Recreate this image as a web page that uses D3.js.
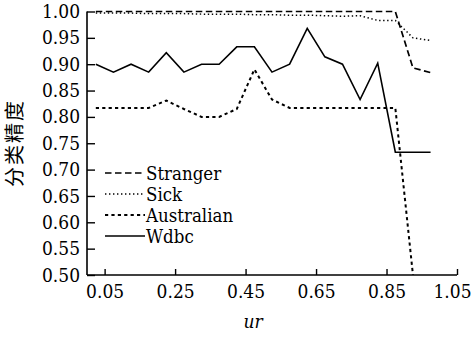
<!DOCTYPE html>
<html><head><meta charset="utf-8">
<script src="https://cdn.jsdelivr.net/npm/d3@7/dist/d3.min.js"></script>
<style>body{margin:0;background:#fff}svg{display:block}</style>
</head><body>
<script>
const urValues = [0.025,0.075,0.125,0.175,0.225,0.275,0.325,0.375,0.425,0.475,0.525,0.575,0.625,0.675,0.725,0.775,0.825,0.875,0.925,0.975];
const stranger = [1.0,1.0,1.0,1.0,1.0,1.0,1.0,1.0,1.0,1.0,1.0,1.0,1.0,1.0,1.0,1.0,1.0,1.0,0.893,0.884];
const sick = [0.997,0.997,0.997,0.996,0.996,0.996,0.995,0.995,0.995,0.994,0.994,0.993,0.993,0.992,0.991,0.992,0.983,0.983,0.950,0.945];
const australian = [0.817,0.817,0.817,0.817,0.831,0.815,0.800,0.800,0.815,0.890,0.833,0.817,0.817,0.817,0.817,0.817,0.817,0.817,0.500,null];
const wdbc = [0.900,0.885,0.900,0.885,0.922,0.885,0.900,0.900,0.933,0.933,0.885,0.900,0.968,0.914,0.900,0.833,0.902,0.733,0.733,0.733];
const xTicks = [0.05,0.25,0.45,0.65,0.85,1.05];
const yTicks = [0.50,0.55,0.60,0.65,0.70,0.75,0.80,0.85,0.90,0.95,1.00];
const seriesNames = ["Stranger","Sick","Australian","Wdbc"];

const W=472,H=337;
const FONT="DejaVu Serif Condensed, DejaVu Serif";
const svg=d3.select("body").append("svg").attr("width",W).attr("height",H);
const x=d3.scaleLinear().domain([0,1.05]).range([87,457]);
const y=d3.scaleLinear().domain([0.5,1.0]).range([275,11.5]);

const styles=[
  {dash:"6.5,3.5",w:1.7},
  {dash:"1.4,2.6",w:1.5},
  {dash:"3.2,3.2",w:2},
  {dash:null,w:1.6}
];
const data=[stranger,sick,australian,wdbc];
const line=d3.line().defined(d=>d[1]!=null).x(d=>x(d[0])).y(d=>y(d[1]));
data.forEach((s,i)=>{
  svg.append("path").datum(urValues.map((u,j)=>[u,s[j]]))
    .attr("d",line).attr("fill","none").attr("stroke","#000")
    .attr("stroke-width",styles[i].w)
    .attr("stroke-dasharray",styles[i].dash);
});

const gx=svg.append("g").attr("transform","translate(0,275)")
  .call(d3.axisBottom(x).tickValues(xTicks).tickSizeInner(-6).tickSizeOuter(0).tickPadding(10).tickFormat(d3.format(".2f")));
const gy=svg.append("g").attr("transform","translate(87,0)")
  .call(d3.axisLeft(y).tickValues(yTicks).tickSizeInner(-8).tickSizeOuter(0).tickPadding(7).tickFormat(d3.format(".2f")));
[gx,gy].forEach(g=>{
  g.attr("font-family",FONT).attr("font-size",null);
  g.select(".domain").attr("stroke","#000").attr("stroke-width",1.6);
  g.selectAll(".tick line").attr("stroke","#000").attr("stroke-width",1.4);
  g.selectAll("text").attr("fill","#000").attr("font-size",19);
});
gx.selectAll(".tick").filter(d=>d===1.05).select("text").attr("text-anchor","end").attr("x",14);
gy.select(".domain").attr("d","M0,275V11.5");
gx.select(".domain").attr("d","M87,0H457");

svg.append("text").attr("font-family",FONT).attr("x",253).attr("y",328).attr("text-anchor","middle")
  .attr("font-style","italic").attr("font-size",19).text("ur");
svg.append("text").attr("font-family","Noto Sans CJK SC").attr("transform","translate(22,143) rotate(-90)").attr("text-anchor","middle")
  .attr("font-size",20).attr("letter-spacing",2).text("分类精度");

const lg=svg.append("g").attr("font-family",FONT);
seriesNames.forEach((n,i)=>{
  const yy=173+i*21;
  lg.append("line").attr("x1",105).attr("x2",145).attr("y1",yy).attr("y2",yy)
    .attr("stroke","#000").attr("stroke-width",styles[i].w).attr("stroke-dasharray",styles[i].dash);
  lg.append("text").attr("x",146).attr("y",yy+6.5).attr("font-size",18.5).text(n);
});
</script>
</body></html>
